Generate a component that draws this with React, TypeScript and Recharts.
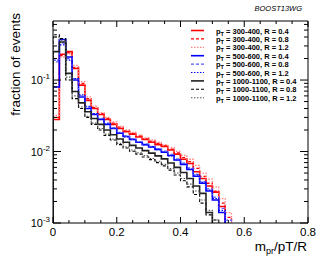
import React from 'react';
import { ComposedChart, Line, XAxis, YAxis } from 'recharts';

// bin lower edges (width 0.02)
const binEdges = [0, 0.02, 0.04, 0.06, 0.08, 0.1, 0.12, 0.14, 0.16, 0.18, 0.2, 0.22, 0.24, 0.26, 0.28, 0.3, 0.32, 0.34, 0.36, 0.38, 0.4, 0.42, 0.44, 0.46, 0.48, 0.5, 0.52, 0.54, 0.56];

const r04 = [0.028, 0.23, 0.25, 0.145, 0.085, 0.052, 0.04, 0.033, 0.028, 0.024, 0.021, 0.019, 0.0175, 0.016, 0.0148, 0.0135, 0.0125, 0.0118, 0.0105, 0.0092, 0.0078, 0.0068, 0.0052, 0.0042, 0.0033, 0.0027, 0.0017];
const r08 = [0.03, 0.22, 0.24, 0.15, 0.09, 0.055, 0.041, 0.034, 0.029, 0.025, 0.022, 0.0195, 0.018, 0.0165, 0.015, 0.014, 0.013, 0.012, 0.0108, 0.0096, 0.0082, 0.0072, 0.0058, 0.0045, 0.0036, 0.0028, 0.0019, 0.0012];
const r12 = [0.032, 0.21, 0.23, 0.16, 0.095, 0.058, 0.043, 0.035, 0.03, 0.026, 0.0225, 0.02, 0.0185, 0.017, 0.0155, 0.0145, 0.0135, 0.0125, 0.0113, 0.01, 0.0088, 0.0078, 0.0064, 0.005, 0.0041, 0.0032, 0.0022, 0.0014];
const b04 = [0.08, 0.37, 0.21, 0.1, 0.058, 0.04, 0.033, 0.028, 0.024, 0.021, 0.018, 0.0162, 0.0148, 0.0135, 0.0125, 0.0116, 0.0107, 0.0098, 0.0088, 0.0076, 0.0066, 0.0056, 0.0045, 0.0036, 0.0028, 0.0021, 0.0014];
const b08 = [0.18, 0.33, 0.2, 0.105, 0.06, 0.042, 0.034, 0.029, 0.025, 0.0215, 0.0185, 0.0165, 0.015, 0.0138, 0.0127, 0.0118, 0.011, 0.0101, 0.0091, 0.0079, 0.0069, 0.0059, 0.0048, 0.0038, 0.003, 0.0023, 0.0016, 0.0011];
const b12 = [0.19, 0.31, 0.19, 0.105, 0.062, 0.043, 0.034, 0.0285, 0.0245, 0.021, 0.018, 0.016, 0.0146, 0.0134, 0.0124, 0.0115, 0.0106, 0.0097, 0.0087, 0.0076, 0.0066, 0.0057, 0.0047, 0.0037, 0.0029, 0.0022, 0.0015];
const k04 = [0.25, 0.34, 0.124, 0.069, 0.048, 0.036, 0.029, 0.024, 0.02, 0.0172, 0.015, 0.0135, 0.0122, 0.0112, 0.0103, 0.0095, 0.0087, 0.0079, 0.0069, 0.006, 0.0051, 0.0042, 0.0033, 0.0026, 0.0014];
const k08 = [0.43, 0.38, 0.1, 0.055, 0.04, 0.03, 0.024, 0.02, 0.0168, 0.0145, 0.0125, 0.0112, 0.0101, 0.0092, 0.0084, 0.0077, 0.007, 0.0063, 0.0055, 0.0047, 0.0039, 0.0032, 0.0025, 0.0019, 0.0013, 0.0011];
const k12 = [0.4, 0.36, 0.11, 0.06, 0.042, 0.031, 0.025, 0.021, 0.0175, 0.015, 0.013, 0.0116, 0.0105, 0.0096, 0.0088, 0.008, 0.0073, 0.0066, 0.0058, 0.005, 0.0042, 0.0035, 0.0028, 0.0021, 0.0015, 0.0011];

const legendLabels = ['300-400, R = 0.4', '300-400, R = 0.8', '300-400, R = 1.2', '500-600, R = 0.4', '500-600, R = 0.8', '500-600, R = 1.2', '1000-1100, R = 0.4', '1000-1100, R = 0.8', '1000-1100, R = 1.2'];

const xTicks = [0, 0.05, 0.1, 0.15, 0.2, 0.25, 0.3, 0.35, 0.4, 0.45, 0.5, 0.55, 0.6, 0.65, 0.7, 0.75, 0.8];
const yTicks = [0.001, 0.002, 0.003, 0.004, 0.005, 0.006, 0.007, 0.008, 0.009, 0.01, 0.02, 0.03, 0.04, 0.05, 0.06, 0.07, 0.08, 0.09, 0.1, 0.2, 0.3, 0.4, 0.5, 0.6];
const yMajor = [0.001, 0.01, 0.1];
const yMajorExp = ['-3', '-2', '-1'];

const FLOOR = 1e-7;
const FONT = '"Liberation Sans", Arial, Helvetica, sans-serif';

const series = [
  { key: 'r04', values: r04, color: '#ff0000', dash: undefined, width: 1.6 },
  { key: 'r08', values: r08, color: '#ff0000', dash: '3 2', width: 1.3 },
  { key: 'r12', values: r12, color: '#ff8080', dash: '1.5 1.5', width: 1.3 },
  { key: 'b04', values: b04, color: '#0000ff', dash: undefined, width: 1.6 },
  { key: 'b08', values: b08, color: '#5a5aff', dash: '3 2', width: 1.3 },
  { key: 'b12', values: b12, color: '#0000ff', dash: '1.5 1.5', width: 1.1 },
  { key: 'k04', values: k04, color: '#222222', dash: undefined, width: 1.6 },
  { key: 'k08', values: k08, color: '#000000', dash: '3 2', width: 1.1 },
  { key: 'k12', values: k12, color: '#555555', dash: '1.5 1.5', width: 1.1 },
];

const data: any[] = [];
{
  const first: any = { x: binEdges[0] };
  series.forEach((s) => (first[s.key] = FLOOR));
  data.push(first);
  binEdges.forEach((e, i) => {
    const row: any = { x: e };
    series.forEach((s) => {
      if (i < s.values.length) row[s.key] = s.values[i];
      else if (i === s.values.length) row[s.key] = FLOOR;
      else row[s.key] = null;
    });
    data.push(row);
  });
}

const isMajorX = (v: number) => Math.abs(v * 5 - Math.round(v * 5)) < 1e-6;
const isMajorY = (v: number) => yMajor.some((m) => Math.abs(v - m) < m * 1e-6);

const XBottomTick = (p: any) => {
  const v = p.payload.value;
  const major = isMajorX(v);
  return (
    <g>
      <line x1={p.x} x2={p.x} y1={p.y} y2={p.y - (major ? 6 : 3)} stroke="#000" strokeWidth={1} />
      {major && (
        <text x={p.x} y={p.y + 13} textAnchor="middle" fontSize={11.5} fontFamily={FONT} fill="#000">
          {v === 0 ? '0' : v.toFixed(1)}
        </text>
      )}
    </g>
  );
};
const XTopTick = (p: any) => {
  const major = isMajorX(p.payload.value);
  return <line x1={p.x} x2={p.x} y1={p.y} y2={p.y + (major ? 6 : 3)} stroke="#000" strokeWidth={1} />;
};
const YLeftTick = (p: any) => {
  const v = p.payload.value;
  const idx = yMajor.findIndex((m) => Math.abs(v - m) < m * 1e-6);
  const major = idx >= 0;
  return (
    <g>
      <line x1={p.x} x2={p.x + (major ? 8 : 4)} y1={p.y} y2={p.y} stroke="#000" strokeWidth={1} />
      {major && (
        <text x={p.x - 3} y={p.y + 4} textAnchor="end" fontFamily={FONT} fill="#000">
          <tspan fontSize={11}>10</tspan>
          <tspan fontSize={8} dy={-5}>{yMajorExp[idx]}</tspan>
        </text>
      )}
    </g>
  );
};
const YRightTick = (p: any) => {
  const major = isMajorY(p.payload.value);
  return <line x1={p.x} x2={p.x - (major ? 8 : 4)} y1={p.y} y2={p.y} stroke="#000" strokeWidth={1} />;
};

export default function App() {
  const legendY0 = 30.5;
  const legendDy = 8.4;
  return (
    <div style={{ position: 'absolute', left: 0, top: 0, width: 332, height: 257, background: '#fff' }}>
      <ComposedChart width={332} height={257} data={data} margin={{ top: 20, right: 23, bottom: 20, left: 13 }}>
        <XAxis xAxisId="b" dataKey="x" type="number" domain={[0, 0.8]} ticks={xTicks} interval={0} allowDataOverflow
          height={14} tickSize={0} tickMargin={0} tickLine={false} axisLine={{ stroke: '#000', strokeWidth: 1 }} tick={<XBottomTick />} />
        <XAxis xAxisId="t" orientation="top" dataKey="x" type="number" domain={[0, 0.8]} ticks={xTicks} interval={0} allowDataOverflow
          height={1} tickSize={0} tickMargin={0} tickLine={false} axisLine={{ stroke: '#000', strokeWidth: 1 }} tick={<XTopTick />} />
        <YAxis yAxisId="l" scale="log" type="number" domain={[0.001, 0.67]} ticks={yTicks} interval={0} allowDataOverflow
          width={40} tickSize={0} tickMargin={0} tickLine={false} axisLine={{ stroke: '#000', strokeWidth: 1 }} tick={<YLeftTick />} />
        <YAxis yAxisId="r" orientation="right" scale="log" type="number" domain={[0.001, 0.67]} ticks={yTicks} interval={0} allowDataOverflow
          width={1} tickSize={0} tickMargin={0} tickLine={false} axisLine={{ stroke: '#000', strokeWidth: 1 }} tick={<YRightTick />} />
        {series.map((s) => (
          <Line key={s.key} xAxisId="b" yAxisId="l" dataKey={s.key} type="stepAfter" stroke={s.color}
            strokeWidth={s.width} strokeDasharray={s.dash} dot={false} activeDot={false} isAnimationActive={false} connectNulls={false} />
        ))}
      </ComposedChart>
      <svg width={332} height={257} style={{ position: 'absolute', left: 0, top: 0, pointerEvents: 'none' }}>
        <text x={302} y={11} textAnchor="end" fontSize={7.5} fontStyle="italic" fontFamily={FONT} fill="#000">BOOST13WG</text>
        <text transform="translate(20,13) rotate(-90)" textAnchor="end" fontSize={13.5} fontFamily={FONT} fill="#000">fraction of events</text>
        <text x={307} y={251} textAnchor="end" fontSize={13.5} fontFamily={FONT} fill="#000">
          m<tspan fontSize={9} dy={3}>pr</tspan><tspan dy={-3}>/pT/R</tspan>
        </text>
        {series.map((s, i) => {
          const y = legendY0 + i * legendDy;
          return (
            <g key={s.key}>
              <line x1={191} x2={204} y1={y} y2={y} stroke={s.color} strokeWidth={s.width} strokeDasharray={s.dash} />
              <text x={216} y={y + 3} fontSize={7.5} fontWeight="bold" fontFamily={FONT} fill="#000">
                p<tspan fontSize={5.5} dy={2}>T</tspan><tspan dy={-2}>{' = ' + legendLabels[i]}</tspan>
              </text>
            </g>
          );
        })}
      </svg>
    </div>
  );
}
